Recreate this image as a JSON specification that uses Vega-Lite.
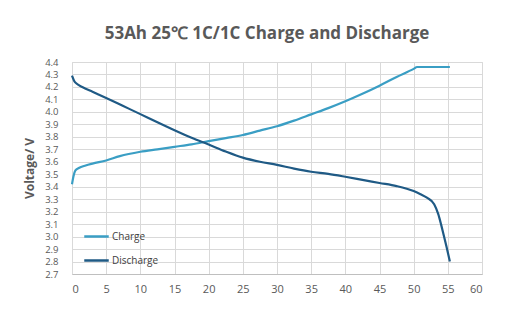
{
  "$schema": "https://vega.github.io/schema/vega-lite/v6.json",
  "width": 410,
  "height": 212,
  "autosize": {"type": "none"},
  "padding": {"left": 72, "top": 62, "right": 29, "bottom": 41},
  "background": "white",
  "title": {
    "text": "53Ah 25℃ 1C/1C Charge and Discharge",
    "font": "Open Sans",
    "fontSize": 17,
    "fontWeight": "bold",
    "color": "#595959",
    "anchor": "middle",
    "dx": -10,
    "offset": 14
  },
  "data": {
    "values": [
      {"capacity": 0, "voltage": 3.42, "series": "Charge"},
      {"capacity": 0.2, "voltage": 3.48, "series": "Charge"},
      {"capacity": 0.5, "voltage": 3.53, "series": "Charge"},
      {"capacity": 1, "voltage": 3.55, "series": "Charge"},
      {"capacity": 2, "voltage": 3.57, "series": "Charge"},
      {"capacity": 3, "voltage": 3.585, "series": "Charge"},
      {"capacity": 5, "voltage": 3.61, "series": "Charge"},
      {"capacity": 7, "voltage": 3.645, "series": "Charge"},
      {"capacity": 10, "voltage": 3.68, "series": "Charge"},
      {"capacity": 12.5, "voltage": 3.7, "series": "Charge"},
      {"capacity": 15, "voltage": 3.72, "series": "Charge"},
      {"capacity": 17.5, "voltage": 3.74, "series": "Charge"},
      {"capacity": 20, "voltage": 3.765, "series": "Charge"},
      {"capacity": 22.5, "voltage": 3.79, "series": "Charge"},
      {"capacity": 25, "voltage": 3.815, "series": "Charge"},
      {"capacity": 27.5, "voltage": 3.85, "series": "Charge"},
      {"capacity": 30, "voltage": 3.885, "series": "Charge"},
      {"capacity": 32.5, "voltage": 3.93, "series": "Charge"},
      {"capacity": 35, "voltage": 3.98, "series": "Charge"},
      {"capacity": 37.5, "voltage": 4.03, "series": "Charge"},
      {"capacity": 40, "voltage": 4.085, "series": "Charge"},
      {"capacity": 42.5, "voltage": 4.145, "series": "Charge"},
      {"capacity": 45, "voltage": 4.21, "series": "Charge"},
      {"capacity": 47.5, "voltage": 4.28, "series": "Charge"},
      {"capacity": 50, "voltage": 4.345, "series": "Charge"},
      {"capacity": 50.5, "voltage": 4.36, "series": "Charge"},
      {"capacity": 55.3, "voltage": 4.36, "series": "Charge"},
      {"capacity": 0, "voltage": 4.29, "series": "Discharge"},
      {"capacity": 0.3, "voltage": 4.25, "series": "Discharge"},
      {"capacity": 0.7, "voltage": 4.225, "series": "Discharge"},
      {"capacity": 1.5, "voltage": 4.2, "series": "Discharge"},
      {"capacity": 3, "voltage": 4.162, "series": "Discharge"},
      {"capacity": 5, "voltage": 4.112, "series": "Discharge"},
      {"capacity": 7.5, "voltage": 4.047, "series": "Discharge"},
      {"capacity": 10, "voltage": 3.982, "series": "Discharge"},
      {"capacity": 12.5, "voltage": 3.916, "series": "Discharge"},
      {"capacity": 15, "voltage": 3.852, "series": "Discharge"},
      {"capacity": 17.5, "voltage": 3.792, "series": "Discharge"},
      {"capacity": 20, "voltage": 3.738, "series": "Discharge"},
      {"capacity": 22.5, "voltage": 3.682, "series": "Discharge"},
      {"capacity": 25, "voltage": 3.633, "series": "Discharge"},
      {"capacity": 27.5, "voltage": 3.6, "series": "Discharge"},
      {"capacity": 30, "voltage": 3.575, "series": "Discharge"},
      {"capacity": 32.5, "voltage": 3.545, "series": "Discharge"},
      {"capacity": 35, "voltage": 3.52, "series": "Discharge"},
      {"capacity": 37.5, "voltage": 3.503, "series": "Discharge"},
      {"capacity": 40, "voltage": 3.48, "series": "Discharge"},
      {"capacity": 42.5, "voltage": 3.455, "series": "Discharge"},
      {"capacity": 45, "voltage": 3.43, "series": "Discharge"},
      {"capacity": 47.5, "voltage": 3.405, "series": "Discharge"},
      {"capacity": 50, "voltage": 3.365, "series": "Discharge"},
      {"capacity": 51, "voltage": 3.34, "series": "Discharge"},
      {"capacity": 52, "voltage": 3.31, "series": "Discharge"},
      {"capacity": 53, "voltage": 3.26, "series": "Discharge"},
      {"capacity": 53.6, "voltage": 3.18, "series": "Discharge"},
      {"capacity": 54, "voltage": 3.1, "series": "Discharge"},
      {"capacity": 54.4, "voltage": 3.01, "series": "Discharge"},
      {"capacity": 54.8, "voltage": 2.92, "series": "Discharge"},
      {"capacity": 55.3, "voltage": 2.8, "series": "Discharge"}
    ]
  },
  "mark": {"type": "line", "strokeWidth": 2.2, "interpolate": "monotone"},
  "encoding": {
    "x": {
      "field": "capacity",
      "type": "quantitative",
      "scale": {"domain": [0, 60], "nice": false},
      "axis": {
        "values": [0, 5, 10, 15, 20, 25, 30, 35, 40, 45, 50, 55, 60],
        "title": null,
        "labelFont": "Open Sans",
        "labelFontSize": 11,
        "labelColor": "#595959",
        "labelPadding": 9,
        "ticks": false,
        "domainColor": "#bfbfbf",
        "gridColor": "#d9d9d9"
      }
    },
    "y": {
      "field": "voltage",
      "type": "quantitative",
      "scale": {"domain": [2.7, 4.4], "nice": false, "zero": false},
      "axis": {
        "values": [2.7, 2.8, 2.9, 3.0, 3.1, 3.2, 3.3, 3.4, 3.5, 3.6, 3.7, 3.8, 3.9, 4.0, 4.1, 4.2, 4.3, 4.4],
        "format": ".1f",
        "title": "Voltage/ V",
        "titleFont": "Open Sans",
        "titleFontSize": 12,
        "titleFontWeight": "bold",
        "titleColor": "#595959",
        "titlePadding": 8,
        "labelFont": "Open Sans",
        "labelFontSize": 9.5,
        "labelColor": "#595959",
        "labelPadding": 14,
        "ticks": false,
        "domain": false,
        "gridColor": "#d9d9d9"
      }
    },
    "color": {
      "field": "series",
      "type": "nominal",
      "scale": {"domain": ["Charge", "Discharge"], "range": ["#3a9ec4", "#1f5a85"]},
      "legend": {
        "title": null,
        "orient": "none",
        "legendX": 11,
        "legendY": 161,
        "symbolType": "stroke",
        "symbolSize": 600,
        "symbolStrokeWidth": 2.5,
        "rowPadding": 5,
        "labelFont": "Open Sans",
        "labelFontSize": 10,
        "labelColor": "#404040",
        "labelOffset": 2,
        "padding": 0
      }
    }
  },
  "config": {
    "view": {"stroke": "#d9d9d9"}
  }
}
